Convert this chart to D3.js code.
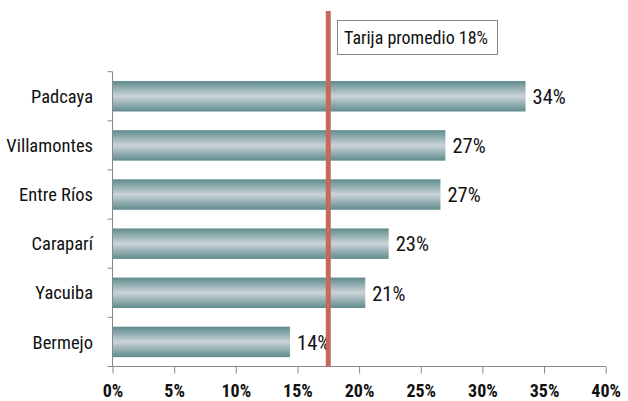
<!DOCTYPE html>
<html>
<head>
<meta charset="utf-8">
<script src="https://cdn.jsdelivr.net/npm/d3@7"></script>
<style>
  body { margin: 0; background: #fff; }
  svg text { font-family: "Liberation Sans Narrow", "Roboto Condensed", "Open Sans", sans-serif; fill: #111; }
</style>
</head>
<body>
<svg width="628" height="401"></svg>
<script>
// municipios y porcentajes (de arriba a abajo)
var municipios = ["Padcaya", "Villamontes", "Entre Ríos", "Caraparí", "Yacuiba", "Bermejo"];
var valores = [33.5, 27.0, 26.6, 22.4, 20.5, 14.4];
var etiquetas = ["34%", "27%", "27%", "23%", "21%", "14%"];
var ticksX = [0, 5, 10, 15, 20, 25, 30, 35, 40];
var promedio = 17.5;
var promedioTexto = "Tarija promedio 18%";

var svg = d3.select("svg"),
    izq = 112.5, der = 605.7, arriba = 71.7, abajo = 366.5;

var x = d3.scaleLinear().domain([0, 40]).range([izq, der]);
var y = d3.scaleBand().domain(municipios).range([arriba, abajo]).paddingInner(0.38).paddingOuter(0.19);

// gradiente de las barras
var grad = svg.append("defs").append("linearGradient")
    .attr("id", "barra").attr("x1", 0).attr("y1", 0).attr("x2", 0).attr("y2", 1);
grad.append("stop").attr("offset", "0%").attr("stop-color", "#5e8b8d");
grad.append("stop").attr("offset", "50%").attr("stop-color", "#cbd4d8");
grad.append("stop").attr("offset", "100%").attr("stop-color", "#5e8b8d");

svg.selectAll("rect.bar")
  .data(valores)
  .enter().append("rect")
    .attr("class", "bar")
    .attr("x", x(0))
    .attr("y", function(d, i) { return y(municipios[i]); })
    .attr("width", function(d) { return x(d) - x(0); })
    .attr("height", y.bandwidth())
    .attr("fill", "url(#barra)");

// eje y
var paso = (abajo - arriba) / municipios.length;
var yTicks = d3.range(municipios.length + 1).map(function(i) { return arriba + i * paso; });
svg.append("line").attr("x1", izq).attr("x2", izq).attr("y1", arriba).attr("y2", abajo)
    .attr("stroke", "#888").attr("stroke-width", 1);
svg.selectAll("line.ytick").data(yTicks).enter().append("line")
    .attr("x1", izq - 5).attr("x2", izq).attr("y1", function(d) { return d; }).attr("y2", function(d) { return d; })
    .attr("stroke", "#888");

svg.selectAll("text.cat").data(municipios).enter().append("text")
    .attr("x", 93)
    .attr("y", function(d) { return y(d) + y.bandwidth() / 2; })
    .attr("dy", "0.36em")
    .attr("text-anchor", "end")
    .attr("font-size", 18.5)
    .text(function(d) { return d; });

// eje x
var ax = svg.append("g").attr("transform", "translate(0," + abajo + ")")
    .call(d3.axisBottom(x).tickValues(ticksX).tickSize(6).tickFormat(function(d) { return d + "%"; }));
ax.select(".domain").attr("stroke", "#888").attr("d", "M" + izq + ",0H" + der);
ax.selectAll(".tick line").attr("stroke", "#888").attr("y2", 7);
ax.selectAll(".tick text").attr("font-size", 18).attr("font-weight", "bold")
    .attr("y", 30.5).attr("dy", 0)
    .style("font-family", '"Liberation Sans Narrow", "Roboto Condensed", sans-serif').attr("fill", "#111");

// etiquetas de valor
svg.selectAll("text.val").data(valores).enter().append("text")
    .attr("x", function(d) { return x(d) + 7; })
    .attr("y", function(d, i) { return y(municipios[i]) + y.bandwidth() / 2; })
    .attr("dy", "0.38em")
    .attr("font-size", 20.5)
    .text(function(d, i) { return etiquetas[i]; });

// linea de promedio
svg.append("line")
    .attr("x1", x(promedio)).attr("x2", x(promedio))
    .attr("y1", 11).attr("y2", abajo)
    .attr("stroke", "#c46a5a").attr("stroke-width", 5);

svg.append("rect")
    .attr("x", 337.5).attr("y", 20.5).attr("width", 160).attr("height", 34)
    .attr("fill", "#fff").attr("stroke", "#888");
svg.append("text")
    .attr("x", 344).attr("y", 38).attr("dy", "0.36em")
    .attr("font-size", 18)
    .text(promedioTexto);
</script>
</body>
</html>
